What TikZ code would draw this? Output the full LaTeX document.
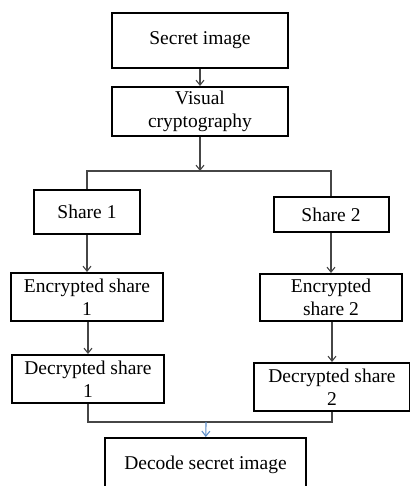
\documentclass[tikz,border=0pt]{standalone}
\usepackage{fontspec}
\setmainfont{Liberation Serif}
\usepackage{xcolor}
\usepackage{tikz}
\usetikzlibrary{arrows.meta}
\definecolor{linkgray}{RGB}{70,70,70}
\definecolor{joinblue}{RGB}{91,140,200}

\begin{document}
\begin{tikzpicture}[x=1pt, y=-1pt, >={Straight Barb[length=5pt,width=8pt]}]
    \tikzstyle{block} = [rectangle, draw=black, line width=2pt, align=center, inner sep=1pt, font=\fontsize{19.5}{23}\selectfont]
    \tikzstyle{link} = [draw=linkgray, line width=1.1pt]
    \useasboundingbox (0,0) rectangle (409,486);

    % Top of the chain
    \node [block, minimum width=176pt, minimum height=55pt] (secret_img) at (200,40.5) {Secret image};
    \node [block, minimum width=176pt, minimum height=49pt] (visual_crypto) at (200,111.5) {Visual\\cryptography};

    % Share branches
    \node [block, minimum width=106pt, minimum height=44pt] (share_one) at (87,212) {Share 1};
    \node [block, minimum width=115pt, minimum height=35pt] (share_two) at (331,214.5) {Share 2};
    \node [block, minimum width=152pt, minimum height=48pt] (enc_one) at (87,297) {Encrypted share\\1};
    \node [block, minimum width=142pt, minimum height=47pt] (enc_two) at (331,297.5) {Encrypted\\share 2};
    \node [block, minimum width=152pt, minimum height=48pt] (dec_one) at (88,379) {Decrypted share\\1};
    \node [block, minimum width=156pt, minimum height=48pt] (dec_two) at (332,387) {Decrypted share\\2};

    % Final step
    \node [block, minimum width=201pt, minimum height=54pt] (decode_img) at (205.5,465) {Decode secret image};

    \coordinate (split) at (200,171);
    \coordinate (join) at (206,422);

    % Arrows along the flow
    \draw [link, ->] (secret_img) -- (visual_crypto);
    \draw [link, ->] (visual_crypto) -- (split);
    \draw [link] (share_one.north) |- (split) -| (share_two.north);
    \draw [link, ->] (share_one.south -| enc_one) -- (enc_one);
    \draw [link, ->] (share_two.south -| enc_two) -- (enc_two);
    \draw [link, ->] (enc_one.south -| dec_one) -- (dec_one);
    \draw [link, ->] (enc_two.south -| dec_two) -- (dec_two);
    \draw [link] (dec_one.south) |- (join) -| (dec_two.south);
    \draw [draw=joinblue, line width=1.1pt, ->] (join) -- (decode_img);
\end{tikzpicture}
\end{document}
